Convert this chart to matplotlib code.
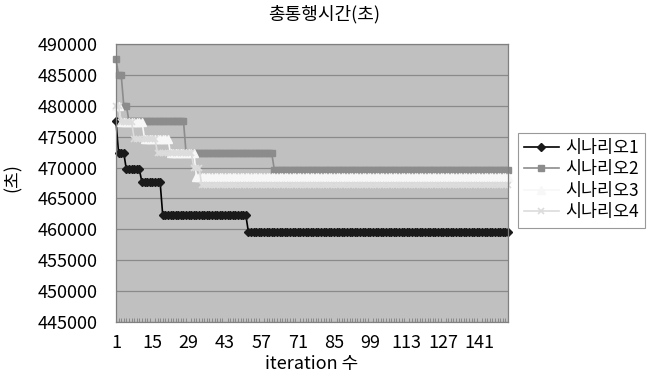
import numpy as np
import matplotlib
matplotlib.use('Agg')
from matplotlib import pyplot as plt
from matplotlib.ticker import MultipleLocator

plt.rcParams['font.family'] = ['Noto Sans CJK KR', 'DejaVu Sans']

# step levels, with how many iterations each level lasts
s1_levels = [477500, 472300, 469700, 467600, 462300, 459600]
s1_counts = [1, 3, 6, 8, 33, 101]
s2_levels = [487500, 485000, 480000, 477500, 472300, 469600]
s2_counts = [1, 2, 2, 22, 34, 91]
s3_levels = [479900, 477400, 474700, 472300, 468500]
s3_counts = [2, 9, 10, 10, 121]
s4_levels = [479900, 477400, 474700, 472300, 470000, 467200]
s4_counts = [2, 5, 9, 14, 3, 119]

names = ['시나리오1', '시나리오2', '시나리오3', '시나리오4']
xticks = [1, 15, 29, 43, 57, 71, 85, 99, 113, 127, 141]

series = [np.repeat(s1_levels, s1_counts), np.repeat(s2_levels, s2_counts),
          np.repeat(s3_levels, s3_counts), np.repeat(s4_levels, s4_counts)]
n = len(series[0])
it = np.arange(1, n + 1)

styles = [
    dict(color='#000000', marker='D', ms=4.5, mfc='#1a1a1a', mec='#1a1a1a'),
    dict(color='#8c8c8c', marker='s', ms=5, mfc='#8c8c8c', mec='#8c8c8c'),
    dict(color='#f7f7f7', marker='^', ms=5.5, mfc='#f7f7f7', mec='#f7f7f7'),
    dict(color='#dcdcdc', marker='x', ms=5, mfc='#dcdcdc', mec='#dcdcdc', mew=1.2),
]

fig = plt.figure(figsize=(6.47, 3.82), dpi=100)
ax = fig.add_axes([116 / 647, 60 / 382, 392 / 647, 278 / 382])
ax.set_facecolor('#c0c0c0')

for y, name, st in zip(series, names, styles):
    ax.plot(it, y, lw=1.2, label=name, clip_on=False, **st)

ax.set_xlim(1, n)
ax.set_ylim(445000, 490000)
ax.set_yticks(np.arange(445000, 490001, 5000))
ax.set_xticks(xticks)
ax.xaxis.set_minor_locator(MultipleLocator(1))
ax.tick_params(axis='both', which='major', length=0, labelsize=13)
ax.tick_params(axis='y', pad=13)
ax.tick_params(axis='x', pad=9)
ax.tick_params(axis='x', which='minor', direction='in', length=3, color='#808080')
ax.yaxis.grid(True, color='#8a8a8a', lw=0.9)
ax.set_axisbelow(True)
for sp in ax.spines.values():
    sp.set_color('#808080')
    sp.set_linewidth(0.9)

ax.set_title('총통행시간(초)', fontsize=13, pad=18, x=0.53)
ax.set_xlabel('iteration 수', fontsize=13, labelpad=2)
ax.set_ylabel('(초)', fontsize=13)
ax.yaxis.set_label_coords(-0.24, 0.52)

leg = ax.legend(loc='center left', bbox_to_anchor=(1.025, 0.51), fontsize=12.5,
                frameon=True, fancybox=False, handlelength=2.0, handletextpad=0.4,
                borderpad=0.35, labelspacing=0.2, borderaxespad=0)
leg.get_frame().set_edgecolor('#808080')
leg.get_frame().set_linewidth(0.8)

fig.savefig('out.png', dpi=100)
